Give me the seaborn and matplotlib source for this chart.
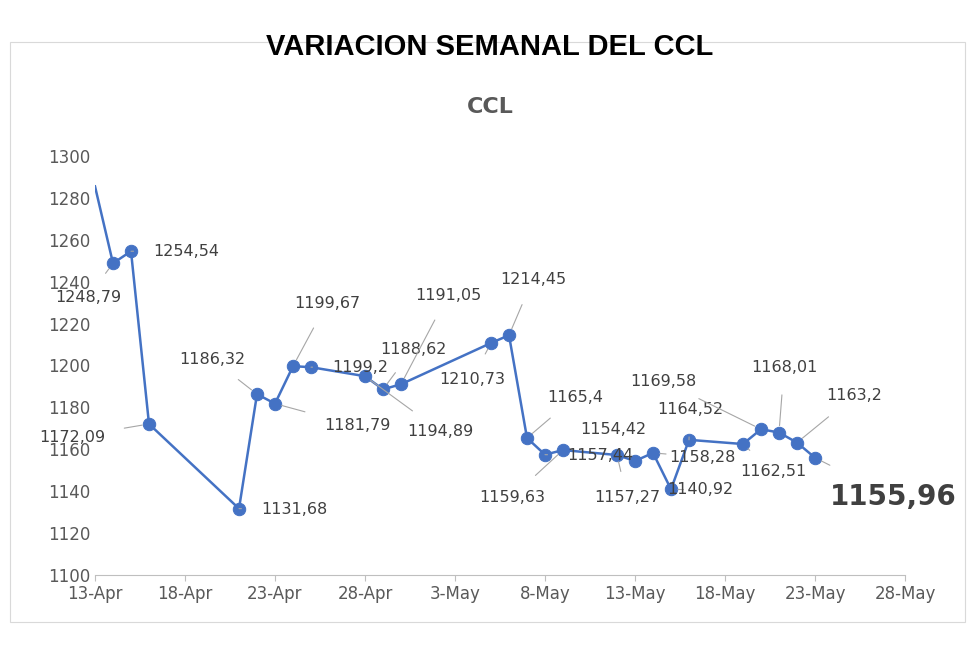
import matplotlib
matplotlib.use("Agg")
import matplotlib.pyplot as plt
import matplotlib.dates as mdates
import seaborn as sns
import pandas as pd
import numpy as np

dates = ["2024-04-13","2024-04-14","2024-04-15","2024-04-16","2024-04-21","2024-04-22","2024-04-23",
         "2024-04-24","2024-04-25","2024-04-28","2024-04-29","2024-04-30","2024-05-05","2024-05-06",
         "2024-05-07","2024-05-08","2024-05-09","2024-05-12","2024-05-13","2024-05-14","2024-05-15",
         "2024-05-16","2024-05-19","2024-05-20","2024-05-21","2024-05-22","2024-05-23"]
values = [1285.5,1248.79,1254.54,1172.09,1131.68,1186.32,1181.79,1199.67,1199.2,1194.89,1188.62,1191.05,
          1210.73,1214.45,1165.4,1157.44,1159.63,1157.27,1154.42,1158.28,1140.92,1164.52,1162.51,
          1169.58,1168.01,1163.2,1155.96]
labels = ["","1248,79","1254,54","1172,09","1131,68","1186,32","1181,79","1199,67","1199,2","1194,89",
          "1188,62","1191,05","1210,73","1214,45","1165,4","1157,44","1159,63","1157,27","1154,42",
          "1158,28","1140,92","1164,52","1162,51","1169,58","1168,01","1163,2","1155,96"]
# label centre positions, figure pixels from top-left
label_pos = [None,(88,297),(186,251),(72,437),(294,509),(212,359),(357,426),(327,303),(360,367),(440,431),
             (413,349),(448,295),(472,379),(533,279),(575,397),(600,456),(512,497),(627,498),(613,430),
             (702,457),(700,490),(690,410),(773,472),(663,381),(784,368),(854,396),(893,497)]

df = pd.DataFrame({"fecha": pd.to_datetime(dates), "ccl": values})
color = "#4472C4"
W, H = 980, 647
fig = plt.figure(figsize=(9.8, 6.47), dpi=100)
fig.text(0.5, 1 - 47 / H, "VARIACION SEMANAL DEL CCL", ha="center", va="center", fontsize=21,
         fontweight="bold", family="Liberation Sans")
ax = fig.add_axes([95 / W, 1 - 575 / H, 810 / W, 419 / H])
fig.text(0.5, 1 - 107 / H, "CCL", ha="center", va="center", fontsize=16, fontweight="bold", color="#595959")
sns.lineplot(data=df, x="fecha", y="ccl", ax=ax, color=color, lw=1.8)
sns.scatterplot(data=df.iloc[1:], x="fecha", y="ccl", ax=ax, color=color, s=80, edgecolor=color, zorder=3)

for i in range(1, len(df)):
    px, py = label_pos[i]
    big = i == len(df) - 1
    ax.annotate(labels[i], (df.fecha[i], df.ccl[i]), xytext=(px, H - py), textcoords="figure pixels",
                ha="center", va="center", fontsize=20 if big else 11.5, fontweight="bold" if big else "normal",
                color="#404040",
                arrowprops=dict(arrowstyle="-", color="#A6A6A6", lw=0.8, shrinkA=24 if big else 12, shrinkB=5))

ax.set_xlim(pd.Timestamp("2024-04-13"), pd.Timestamp("2024-05-28"))
ax.set_ylim(1100, 1300)
ax.set_yticks(np.arange(1100, 1301, 20))
ax.set_xticks(pd.date_range("2024-04-13", "2024-05-28", freq="5D"))
ax.xaxis.set_major_formatter(mdates.DateFormatter("%-d-%b"))
ax.set_xlabel(""); ax.set_ylabel("")
for s in ["top", "right", "left"]:
    ax.spines[s].set_visible(False)
ax.spines["bottom"].set_color("#BFBFBF")
ax.tick_params(length=0, labelsize=12, colors="#595959")
ax.tick_params(axis="x", length=4, color="#BFBFBF")
fig.patches.append(plt.Rectangle((10 / W, 25 / H), 955 / W, 580 / H, transform=fig.transFigure,
                                 fill=False, edgecolor="#D9D9D9", lw=0.8))
fig.savefig("out.png", dpi=100)
